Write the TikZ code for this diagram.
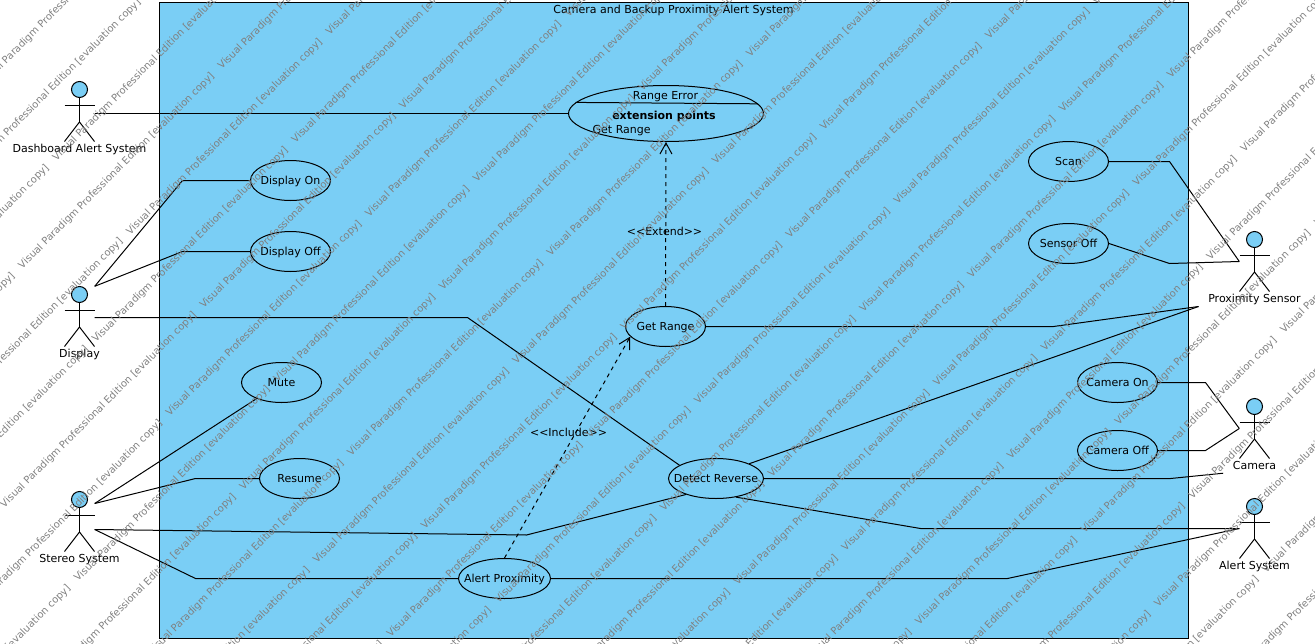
\documentclass[tikz,border=0pt]{standalone}
\usepackage{fontspec}
\setmainfont{DejaVu Sans}
\usetikzlibrary{shapes.geometric,arrows.meta}
\definecolor{ucblue}{HTML}{7ACEF5}
\newcommand{\uctext}[1]{\makebox[0pt]{#1}}
\tikzset{
	diagfont/.style={font=\fontsize{11}{13}\selectfont,text height=10,text depth=1.5,inner sep=0},
	usecase/.style={ellipse,draw=black,line width=1pt,minimum width=80,minimum height=40,diagfont},
	actorbox/.style={minimum width=30,minimum height=60,inner sep=0},
	assoc/.style={black,line width=1pt},
	depend/.style={black,line width=1pt,dashed,dash pattern=on 4pt off 4pt,-{Straight Barb[length=11pt,width=12pt]}},
	watermark/.style={font=\fontsize{10}{12}\selectfont,text=black!50,rotate=45,anchor=west,inner sep=0}
}
\begin{document}
\begin{tikzpicture}[x=1pt,y=-1pt]
	\useasboundingbox (-0.5,-0.5) rectangle (1314.5,642.5);
	%
	\node[draw=black,fill=ucblue,line width=1pt,minimum width=1029,minimum height=636,inner sep=0] (system) at (673.5,320) {};
	\node[diagfont] (systitle) at (673,9) {Camera and Backup Proximity Alert System};
	%
	\foreach \nm/\cx/\cy/\txt in {dashboard/79/81/Dashboard Alert System,display/79/286/Display,stereo/79/491/Stereo System,sensor/1254/231/Proximity Sensor,camera/1254/398/Camera,alert/1254/498/Alert System}{
		\node[actorbox] (\nm) at (\cx,\cy+30) {};
		\node[diagfont] (\nm-name) at (\cx,\cy+67) {\txt};
		\draw[assoc,fill=ucblue] (\cx,\cy+8) circle (8pt);
		\draw[assoc] (\cx,\cy+16)--(\cx,\cy+40.5);
		\draw[assoc] (\cx-15,\cy+24)--(\cx+15,\cy+24);
		\draw[assoc] (\cx-15,\cy+60)--(\cx,\cy+40.5)--(\cx+15,\cy+60);
	}
	\coordinate (sensorend) at (1198,306);
	\coordinate (cameraend) at (1222.7,472.7);
	%
	\node[usecase,minimum width=195,minimum height=56] (rangeerr) at (665.5,113) {};
	\draw[assoc] (rangeerr.173.5)--(rangeerr.6.5);
	\node[diagfont] (rangeerr-name) at (665,94.5) {Range Error};
	\node[diagfont] (rangeerr-ext) at (663.5,114.5) {\textbf{extension points}};
	\node[diagfont,anchor=west] (rangeerr-point) at (592,128.5) {Get Range};
	%
	\node[usecase] (dispon) at (290,180) {\uctext{Display On}};
	\node[usecase] (dispoff) at (290,251) {\uctext{Display Off}};
	\node[usecase] (mute) at (281,382) {\uctext{Mute}};
	\node[usecase] (resume) at (299,478) {\uctext{Resume}};
	\node[usecase] (getrange) at (665,326) {\uctext{Get Range}};
	\node[usecase,minimum width=95] (detect) at (715.5,478) {\uctext{Detect Reverse}};
	\node[usecase,minimum width=92] (alertprox) at (504,578) {\uctext{Alert Proximity}};
	\node[usecase] (scan) at (1068,161) {\uctext{Scan}};
	\node[usecase] (sensoroff) at (1068,243) {\uctext{Sensor Off}};
	\node[usecase] (camon) at (1117,382) {\uctext{Camera On}};
	\node[usecase] (camoff) at (1117,450) {\uctext{Camera Off}};
	%
	\draw[assoc] ([yshift=-2]dashboard.east)--(rangeerr.west);
	\draw[assoc] (display.north east)--(182,180)--(dispon.west);
	\draw[assoc] (display.north east)--(182,251)--(dispoff.west);
	\draw[assoc] ([yshift=-1]display.east)--(467,317)--(detect.160.6);
	\draw[assoc] ([yshift=18]stereo.east)--(mute);
	\draw[assoc] ([yshift=18]stereo.east)--(195,478)--(resume.west);
	\draw[assoc] ([yshift=-8]stereo.east)--(526,534.5)--(detect.208);
	\draw[assoc] ([yshift=-8]stereo.east)--(195,578)--(alertprox.west);
	\draw[assoc] (scan.east)--(1169,161)--(sensor.west);
	\draw[assoc] (sensoroff.east)--(1169,263)--(sensor.west);
	\draw[assoc] (getrange.east)--(1053,326)--(sensorend);
	\draw[assoc] (detect.24.4)--(sensorend);
	\draw[assoc] (camon.east)--(1205,382)--(camera.west);
	\draw[assoc] (camoff.east)--(1205,450)--(camera.west);
	\draw[assoc] (detect.east)--(1170,478)--(cameraend);
	\draw[assoc] (detect.-43)--(920,528)--(alert.west);
	\draw[assoc] (alertprox.east)--(1007,578)--(alert.west);
	%
	\draw[depend] (getrange.north)--(rangeerr.south);
	\node[diagfont] (extendlab) at (664,231) {<{}<Extend>{}>};
	\draw[depend] (alertprox.north)--(getrange.196.4);
	\node[diagfont] (includelab) at (568,432) {<{}<Include>{}>};
	%
	\begin{scope}
		\clip (-0.5,-0.5) rectangle (1314.5,642.5);
		\foreach \k in {-3,...,27}{
			\foreach \m in {-4,...,3}{
				\pgfmathsetmacro{\wy}{213+73.7*\k}
				\pgfmathsetmacro{\wx}{(isodd(\k)?152:294)+399*\m}
				\node[watermark] (wm\k-\m) at ({(\wx+\wy)/2},{(\wy-\wx)/2}) {Visual Paradigm Professional Edition [evaluation copy]};
			}
		}
	\end{scope}
\end{tikzpicture}
\end{document}
